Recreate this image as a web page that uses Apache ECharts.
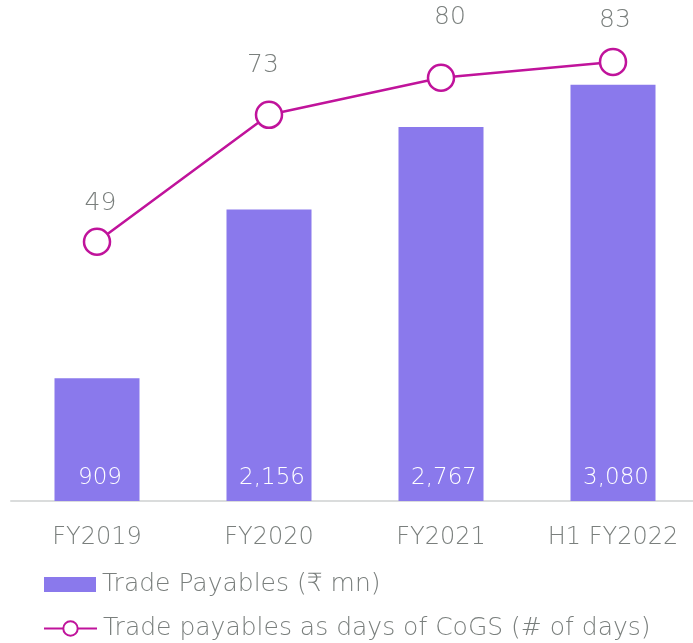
<!DOCTYPE html>
<html><head><meta charset="utf-8">
<script src="https://cdn.jsdelivr.net/npm/echarts@6/dist/echarts.min.js"></script>
<style>html,body{margin:0;padding:0;background:#fff}#c{width:693px;height:643px}</style>
</head><body><div id="c"></div>
<script>
var categories = ['FY2019', 'FY2020', 'FY2021', 'H1 FY2022'];
var payables = [909, 2156, 2767, 3080];
var days = [49, 73, 80, 83];
var dayLabelOffsets = [[3.5, -38], [-6, -49], [9, -60.5], [2, -41]];
var font = 'DejaVu Sans';
var fw = 200;
var grey = '#7a7f7d';
var chart = echarts.init(document.getElementById('c'));
var lineData = days.map(function (v, i) {
  return {value: v, label: {offset: dayLabelOffsets[i]}};
});
chart.setOption({
  animation: false,
  grid: {left: 11, top: 0, width: 688, height: 501, containLabel: false, outerBoundsMode: 'none'},
  legend: [
    {
      left: 44, top: 572, itemWidth: 52, itemHeight: 15, padding: 0,
      textStyle: {fontFamily: font, fontWeight: fw, fontSize: 25, color: grey, padding: [0, 0, 0, 1]},
      data: [{name: 'Trade Payables (₹ mn)', icon: 'rect'}]
    },
    {
      left: 43, top: 616, itemWidth: 53, itemHeight: 18, padding: 0,
      textStyle: {fontFamily: font, fontWeight: fw, fontSize: 25, color: grey, padding: [0, 0, 0, 1]},
      data: [{name: 'Trade payables as days of CoGS (# of days)'}]
    }
  ],
  xAxis: {
    type: 'category', data: categories,
    axisLine: {lineStyle: {color: '#dadcdc', width: 2}},
    axisTick: {show: false},
    axisLabel: {fontFamily: font, fontWeight: fw, fontSize: 24, color: grey, margin: 25}
  },
  yAxis: [
    {type: 'value', min: 0, max: 3707, show: false, splitLine: {show: false}},
    {type: 'value', min: 0, max: 94.7, show: false, splitLine: {show: false}}
  ],
  series: [
    {
      name: 'Trade Payables (₹ mn)', type: 'bar', data: payables, barWidth: 85,
      itemStyle: {color: '#8a79ec'},
      label: {show: true, position: 'insideBottom', distance: 11, offset: [3, 0], fontFamily: font, fontWeight: fw, fontSize: 23, color: '#fff',
        formatter: function (p) { return p.value.toLocaleString('en-US'); }}
    },
    {
      name: 'Trade payables as days of CoGS (# of days)', type: 'line', yAxisIndex: 1, data: lineData,
      symbol: 'circle', symbolSize: 26,
      lineStyle: {color: '#c0139b', width: 2.5},
      itemStyle: {color: '#fff', borderColor: '#c0139b', borderWidth: 2.5},
      label: {show: true, position: 'inside', align: 'center', verticalAlign: 'middle', fontFamily: font, fontWeight: fw, fontSize: 25, color: grey}
    }
  ]
});
</script></body></html>
